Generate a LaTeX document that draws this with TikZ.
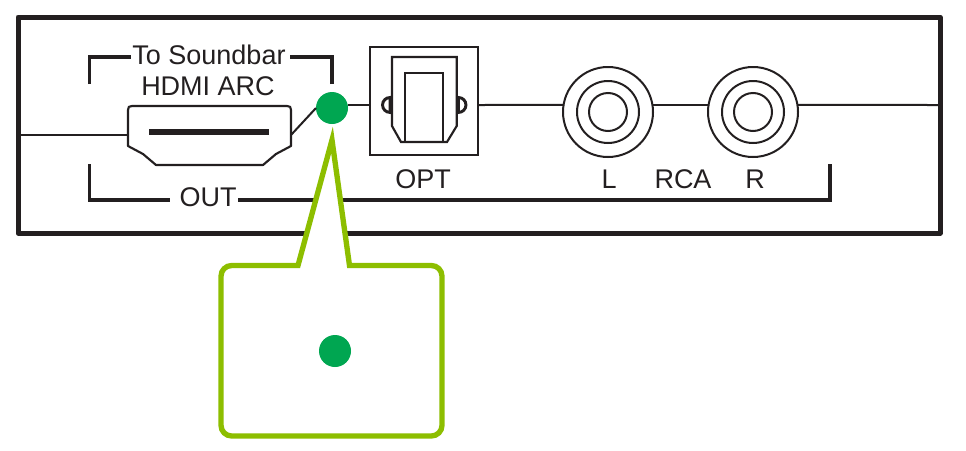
\documentclass[tikz,border=0pt]{standalone}
\usepackage{fontspec}
\setmainfont{Liberation Sans}
\usetikzlibrary{positioning}
\definecolor{inkblack}{HTML}{231F20}
\definecolor{dotgreen}{HTML}{00A651}
\definecolor{calloutgreen}{HTML}{8DBE00}
\tikzset{
  label text/.style={anchor=base,inner sep=0pt,outer sep=0pt,text=inkblack,font=\fontsize{20.25pt}{22pt}\selectfont},
  wire/.style={draw=inkblack,line width=1.5pt},
  bracket/.style={draw=inkblack,line width=2.5pt},
  port/.style={draw=inkblack,line width=1.6pt},
  rca ring/.style={circle,draw=inkblack,line width=1.5pt,inner sep=0pt,outer sep=0pt,minimum size=#1*0.75pt},
  green dot/.style={circle,fill=dotgreen,inner sep=0pt,outer sep=0pt,minimum size=24pt},
  callout/.style={draw=calloutgreen,fill=white,line width=4pt,line join=miter}
}
\begin{document}
\begin{tikzpicture}[x=0.75pt,y=-0.75pt]
    \useasboundingbox (0,0) rectangle (966,450);
    \draw [inkblack, line width=3.75pt, line join=round] (18,17) rectangle (940,233);
    \node [label text] (soundbar) at (209,64) {To Soundbar};
    \node [label text] (arc) at (208,95) {HDMI ARC};
    \node [label text] (out) at (208,206) {OUT};
    \node [label text] (opt) at (423,188) {OPT};
    \node [label text] (left) at (609,188) {L};
    \node [label text] (rca) at (683,188) {RCA};
    \node [label text] (right) at (755,188) {R};
    \coordinate (topleft) at (89.5,84);
    \coordinate (topright) at (332,84);
    \coordinate (lowleft) at (89.5,164);
    \coordinate (lowright) at (830,164);
    \draw [bracket] (topleft) |- (131,57);
    \draw [bracket] (topright) |- (290,57);
    \draw [bracket] (lowleft) |- (170,200);
    \draw [bracket] (lowright) |- (238,200);
    \coordinate (wirestart) at (19,135);
    \coordinate (wireend) at (939,105);
    \coordinate (hdmiin) at (128,135);
    \coordinate (hdmiout) at (291,135);
    \node [green dot] (hdmidot) at (332,108) {};
    \node [draw=inkblack, line width=1.6pt, inner sep=0pt, outer sep=0pt, minimum size=81pt] (optbox) at (423.8,101) {};
    \node [rca ring=90] (leftouter) at (608,112) {};
    \node [rca ring=62] (leftmid) at (608,112) {};
    \node [rca ring=38] (leftinner) at (608,112) {};
    \node [rca ring=90] (rightouter) at (753,112) {};
    \node [rca ring=62] (rightmid) at (753,112) {};
    \node [rca ring=38] (rightinner) at (753,112) {};
    \draw [wire] (wirestart) -- (hdmiin);
    \draw [wire] (hdmiout) -- (hdmidot.west);
    \draw [wire] (hdmidot.east |- 0,105) -- (optbox.west |- 0,105);
    \draw [wire] (optbox.east |- 0,105) -- (leftouter.171);
    \draw [wire] (leftouter.9) -- (rightouter.171);
    \draw [wire] (rightouter.9) -- (wireend);
    \draw [port, line join=round] (128,110) .. controls (128,107) and (129,106) .. (132,106) -- (287,106) .. controls (290,106) and (291,107) .. (291,110) -- (291,146) -- (276,154) -- (263,165) -- (156,165) -- (143,154) -- (128,146) -- cycle;
    \draw [inkblack, line width=4.2pt] (149,131.7) -- (269,131.7);
    \draw [port] (392,126) -- (392,57) -- (456.7,57) -- (456.7,126) -- (447,142) -- (401,142) -- cycle;
    \draw [port] (405,142) -- (405,73) -- (443,73) -- (443,142);
    \draw [inkblack, line width=2.2pt] (390,97.5) arc [start angle=90, end angle=270, radius=5.6pt] -- cycle;
    \draw [inkblack, line width=2.2pt] (458.5,97.5) arc [start angle=90, end angle=-90, radius=5.6pt] -- cycle;
    \draw [callout] (298,265.5) -- (332,140) -- (349.5,265.5) [rounded corners=8pt] -- (442,265.5) -- (442,436) -- (221,436) -- (221,265.5) -- (260,265.5) [sharp corners] -- cycle;
    \node [green dot] (legenddot) at (335,351) {};
\end{tikzpicture}
\end{document}
